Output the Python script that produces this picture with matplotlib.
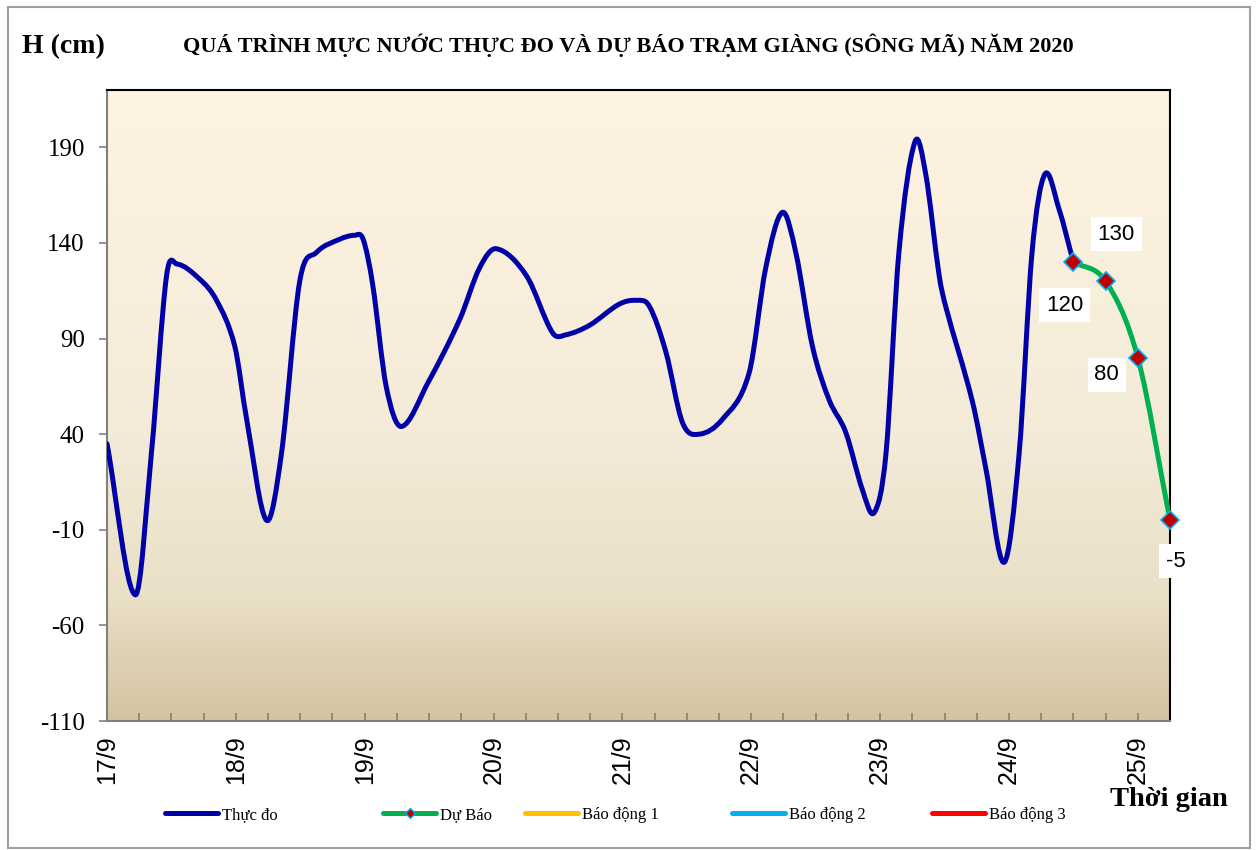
import numpy as np
import matplotlib
matplotlib.use("Agg")
import matplotlib.pyplot as plt
from matplotlib.path import Path
from matplotlib.patches import PathPatch, Rectangle
from matplotlib.colors import LinearSegmentedColormap
from matplotlib.lines import Line2D

# ---- data (hours counted from 17/9 00h) ----
obs_hours = [0, 5.3, 8.3, 11.1, 13, 17.3, 20.4, 23.8, 26, 29.7, 32.5, 35.9, 39,
             43.4, 46.1, 47.7, 49.5, 52, 54.8, 59.8, 65.7, 69.4, 72.5, 78.1,
             83, 85.5, 89.9, 95.4, 98.6, 101, 104.1, 107.2, 110.3, 114.7, 119.6,
             122.7, 125.8, 128.3, 131.4, 134.5, 137.6, 140.7, 142.9, 145.1,
             147.5, 150.5, 152.5, 155, 156.2, 161.2, 163.7, 167.1, 169.9, 172.3,
             174.7, 177.3, 180]
obs_levels = [35, -44, 31, 123, 129, 121, 110, 86, 48, -5, 30, 120, 135,
              142, 144, 142, 118, 65, 44, 67, 100, 127, 137, 123,
              93, 92, 97, 108, 110, 107, 83, 46, 40, 48, 72,
              127, 156, 135, 86, 58, 41, 11, -1, 30,
              135, 193, 176, 123, 107, 57, 22, -27, 30, 135,
              176, 158, 130]

fc_hours = [180, 186, 192, 198]
fc_levels = [130, 120, 80, -5]
fc_labels = ["130", "120", "80", "-5"]
# label offsets in pixels from each forecast point
fc_offsets = [(43, 28), (-41, -24), (-31, -17), (6, -41)]

day_labels = ["17/9", "18/9", "19/9", "20/9", "21/9", "22/9", "23/9", "24/9", "25/9"]
y_ticks = [-110, -60, -10, 40, 90, 140, 190]

legend_names = ["Thực đo", "Dự Báo", "Báo động 1", "Báo động 2", "Báo động 3"]
legend_colors = ["#0000A8", "#00B050", "#FFC000", "#00B0F0", "#FF0000"]

title = "QUÁ TRÌNH MỰC NƯỚC THỰC ĐO VÀ DỰ BÁO TRẠM GIÀNG (SÔNG MÃ) NĂM 2020"

SERIF = ["Liberation Serif", "DejaVu Serif"]
SANS = ["Liberation Sans", "DejaVu Sans"]


def smooth_path(x, y):
    """Smoothed line through the points (cubic Hermite as Bezier)."""
    x = np.asarray(x, float)
    y = np.asarray(y, float)
    n = len(x)
    m = np.zeros(n)
    m[0] = (y[1] - y[0]) / (x[1] - x[0])
    m[-1] = (y[-1] - y[-2]) / (x[-1] - x[-2])
    for i in range(1, n - 1):
        m[i] = (y[i + 1] - y[i - 1]) / (x[i + 1] - x[i - 1])
    verts = [(x[0], y[0])]
    codes = [Path.MOVETO]
    for i in range(n - 1):
        d = (x[i + 1] - x[i]) / 3
        verts += [(x[i] + d, y[i] + m[i] * d),
                  (x[i + 1] - d, y[i + 1] - m[i + 1] * d),
                  (x[i + 1], y[i + 1])]
        codes += [Path.CURVE4] * 3
    return Path(verts, codes)


fig = plt.figure(figsize=(12.59, 8.5), dpi=100)
ax = fig.add_axes([107 / 1259, 1 - 721 / 850, (1170 - 107) / 1259, (721 - 90) / 850])

xmax = 198
ymin, ymax = -110, 220

# background gradient (light on top, tan at bottom)
cmap = LinearSegmentedColormap.from_list(
    "bg", [(0, "#FEF3E0"), (0.55, "#F3EBD8"), (0.8, "#EAE0C8"), (1, "#D3C3A0")])
grad = np.linspace(0, 1, 256).reshape(-1, 1)
ax.imshow(grad, cmap=cmap, aspect="auto", extent=[0, xmax, ymin, ymax],
          origin="upper", zorder=0, interpolation="bicubic")
ax.set_xlim(0, xmax)
ax.set_ylim(ymin, ymax)

ax.add_patch(PathPatch(smooth_path(obs_hours, obs_levels), fill=False,
                       edgecolor="#0000A8", lw=3.6, zorder=3, capstyle="round",
                       joinstyle="round"))
ax.add_patch(PathPatch(smooth_path(fc_hours, fc_levels), fill=False,
                       edgecolor="#00B050", lw=3.6, zorder=3))
ax.plot(fc_hours, fc_levels, ls="none", marker="D", ms=9, mfc="#C00000",
        mec="#00B0F0", mew=1.2, zorder=4, clip_on=False)

for hx, hy, lab, off in zip(fc_hours, fc_levels, fc_labels, fc_offsets):
    ax.annotate(lab, (hx, hy), xytext=off, textcoords="offset pixels",
                ha="center", va="center", fontsize=16, family=SANS, zorder=5,
                bbox=dict(boxstyle="square,pad=0.3", fc="white", ec="none"),
                annotation_clip=False)

# axes styling
for side in ["left", "bottom"]:
    ax.spines[side].set_color("#808080")
    ax.spines[side].set_linewidth(1.5)
for side in ["top", "right"]:
    ax.spines[side].set_color("black")
    ax.spines[side].set_linewidth(1.5)

ax.set_yticks(y_ticks)
ax.set_yticklabels([str(v) for v in y_ticks], family=SERIF, fontsize=18)
ax.tick_params(axis="y", direction="out", length=6, color="#808080", width=1.2, pad=10)

ax.set_xticks(np.arange(0, 24 * len(day_labels), 24))
ax.set_xticklabels(day_labels, rotation=90, family=SANS, fontsize=18)
ax.set_xticks(np.arange(6, xmax + 1, 6), minor=True)
ax.tick_params(axis="x", which="both", direction="in", length=6, color="#808080",
               width=1.2, pad=10)

# texts
fig.text(628 / 1259, 1 - 45 / 850, title, ha="center", va="center",
         family=SERIF, fontsize=16, fontweight="bold")
fig.text(22 / 1259, 1 - 47 / 850, "H (cm)", ha="left", va="center",
         family=SERIF, fontsize=20, fontweight="bold")
fig.text(1228 / 1259, 1 - 800 / 850, "Thời gian", ha="right", va="center",
         family=SERIF, fontsize=20.5, fontweight="bold")

# legend drawn by hand
leg_x = [165, 383, 525, 732, 932]
leg_y = 1 - 813 / 850
for lx, name, col in zip(leg_x, legend_names, legend_colors):
    fig.add_artist(Line2D([lx / 1259, (lx + 53) / 1259], [leg_y, leg_y],
                          color=col, lw=3.6, solid_capstyle="round"))
    if name == "Dự Báo":
        fig.add_artist(Line2D([(lx + 26.5) / 1259], [leg_y], marker="D", ms=5,
                              mfc="#C00000", mec="#00B0F0", mew=1))
    fig.text((lx + 57) / 1259, leg_y - 0.002, name, ha="left", va="center",
             family=SERIF, fontsize=12)

# outer frame
fig.add_artist(Rectangle((8 / 1259, 2 / 850), 1242 / 1259, 841 / 850,
                         transform=fig.transFigure, fill=False,
                         edgecolor="#A0A0A0", lw=1.5))

fig.savefig("out.png", dpi=100)
